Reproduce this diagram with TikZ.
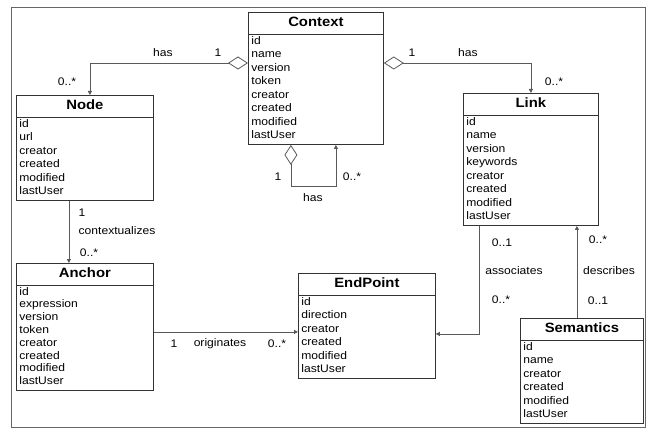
\documentclass[tikz,border=0pt]{standalone}
\usepackage{fontspec}
\setmainfont{Liberation Sans}[FakeStretch=1.1]
\usetikzlibrary{shapes.multipart,arrows.meta}
\setlength{\parindent}{0pt}
\newcommand{\classname}[1]{\makebox[\hsize]{\fontsize{13.5}{18}\selectfont\bfseries\strut#1}}
\tikzset{x=1pt, y=-1pt,
    umlclass/.style={rectangle split, rectangle split parts=2, draw=black!80,
        line width=0.8pt, inner xsep=3pt, inner ysep=1.5pt, align=left,
        font=\fontsize{11}{13.5}\selectfont, anchor=north west,
        execute at end node=\strut},
    mult/.style={font=\fontsize{11}{13}\selectfont, inner sep=0pt},
    hasline/.style={draw=black!65, line width=0.8pt,
        {Diamond[open,length=20pt,width=13pt]}-{Triangle[length=4pt,width=4pt]}},
    assocline/.style={draw=black!65, line width=0.8pt, -{Triangle[length=4pt,width=4pt]}},
    }
\begin{document}
\begin{tikzpicture}
\useasboundingbox (0,0) rectangle (654,428);
\draw[black!60, line width=0.8pt] (11,7) rectangle (645,427);

% classes
\node[umlclass, text width=129pt] (Context) at (248,12)
    {\classname{Context}\nodepart{second}id\\name\\version\\token\\creator\\created\\modified\\lastUser};
\node[umlclass, text width=131pt] (Node) at (16,95)
    {\classname{Node}\nodepart{second}id\\url\\creator\\created\\modified\\lastUser};
\node[umlclass, text width=129pt] (Link) at (463,93)
    {\classname{Link}\nodepart{second}id\\name\\version\\keywords\\creator\\created\\modified\\lastUser};
\node[umlclass, text width=131pt, font=\fontsize{11}{12.8}\selectfont] (Anchor) at (16,263)
    {\classname{Anchor}\nodepart{second}id\\expression\\version\\token\\creator\\created\\modified\\lastUser};
\node[umlclass, text width=131pt] (EndPoint) at (298,273)
    {\classname{EndPoint}\nodepart{second}id\\direction\\creator\\created\\modified\\lastUser};
\node[umlclass, text width=117pt] (Semantics) at (520,318)
    {\classname{Semantics}\nodepart{second}id\\name\\creator\\created\\modified\\lastUser};

% aggregations
\draw[hasline] ([yshift=-51pt]Context.north west) -| ([xshift=5pt]Node.north);
\draw[hasline] ([yshift=-51pt]Context.north east) -| (Link.north);
\draw[hasline] ([xshift=-25pt]Context.south) -- ++(0,41) -| ([xshift=20pt]Context.south);

% associations
\draw[assocline] ([xshift=-16pt]Node.south) -- ([xshift=-16pt]Anchor.north);
\draw[assocline] ([yshift=-5pt]Anchor.east) -- ([yshift=-5pt]Anchor.east -| EndPoint.west);
\draw[assocline] ([xshift=-52pt]Link.south) |- ([yshift=-8pt]EndPoint.east);
\draw[assocline] ([xshift=-5pt]Semantics.north) -- ([xshift=-5pt]Semantics.north |- Link.south);

% labels
\node[mult] (hasN) at (163,53) {has};
\node[mult] (oneN) at (218,53) {1};
\node[mult] (manyN) at (67,82) {0..*};
\node[mult] (oneL) at (412,53) {1};
\node[mult] (hasL) at (468,53) {has};
\node[mult] (manyL) at (554,82) {0..*};
\node[mult] (oneC) at (278,177) {1};
\node[mult] (hasC) at (313,198) {has};
\node[mult] (manyC) at (352,177) {0..*};
\node[mult] (oneA) at (82,213) {1};
\node[mult] (ctxA) at (117,231) {contextualizes};
\node[mult] (manyA) at (89,253) {0..*};
\node[mult] (oneE) at (174,344) {1};
\node[mult] (origE) at (220,344) {originates};
\node[mult] (manyE) at (277,344) {0..*};
\node[mult] (oneP) at (502,243) {0..1};
\node[mult] (assocP) at (514,271) {associates};
\node[mult] (manyP) at (501,300) {0..*};
\node[mult] (manyS) at (598,240) {0..*};
\node[mult] (descS) at (609,271) {describes};
\node[mult] (oneS) at (598,301) {0..1};
\end{tikzpicture}
\end{document}
